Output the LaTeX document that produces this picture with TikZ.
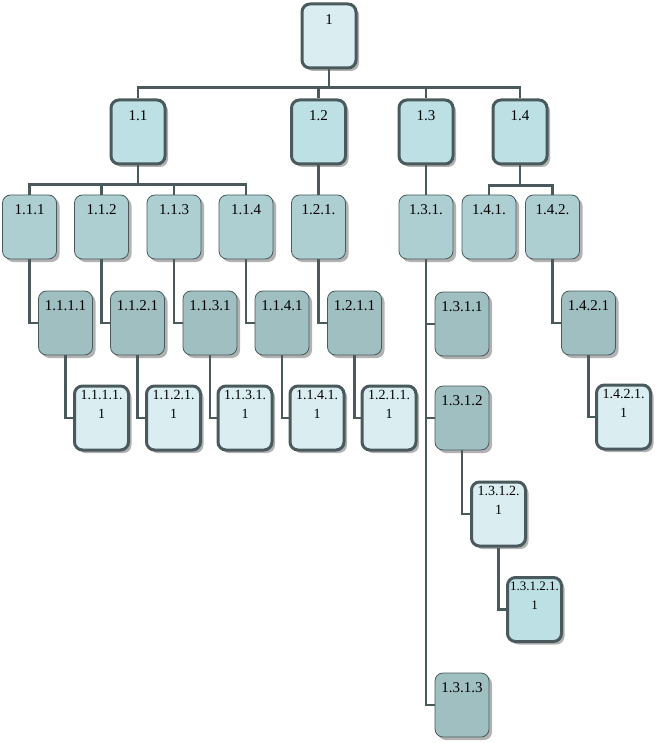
\documentclass[tikz,border=0pt]{standalone}
\usepackage{fontspec}
\setmainfont{Liberation Serif}
\usepackage{xcolor}
\usetikzlibrary{shadows}

\definecolor{edgegray}{HTML}{4A5A5C}
\definecolor{lightfill}{HTML}{DAEEF2}
\definecolor{tealfill}{HTML}{BDE0E4}
\definecolor{midfill}{HTML}{AECFD2}
\definecolor{darkfill}{HTML}{A0BFC1}

\begin{document}
\begin{tikzpicture}[x=1pt, y=-1pt,
    boxshadow/.style={drop shadow={shadow xshift=3pt, shadow yshift=-3pt, fill=black!30, opacity=1}},
    box/.style={draw=edgegray, rounded corners=8pt, minimum width=54pt, minimum height=64pt, inner sep=0pt, boxshadow},
    thickbox/.style={box, line width=3pt},
    thinbox/.style={box, line width=0.8pt},
    lvltop/.style={thickbox, fill=lightfill},
    lvlone/.style={thickbox, fill=tealfill},
    lvltwo/.style={thinbox, fill=midfill},
    lvlthree/.style={thinbox, fill=darkfill},
    onelabel/.style={label={[anchor=north, inner sep=0pt, yshift=-10pt, font=\fontsize{15}{18}\selectfont]north:#1}},
    headlabel/.style={label={[anchor=north, inner sep=0pt, yshift=-12pt, font=\fontsize{15}{18}\selectfont]north:#1}},
    twolabel/.style={label={[anchor=north, inner sep=0pt, yshift=-6pt, align=center, font=\fontsize{14}{19}\selectfont]north:#1}},
    tinylabel/.style={label={[anchor=north, inner sep=0pt, yshift=-6pt, align=center, font=\fontsize{13}{19}\selectfont]north:#1}},
    conn/.style={draw=edgegray, line width=2.8pt}
  ]
  \useasboundingbox (0,0) rectangle (659,743);

  % top levels
  \node[lvltop, headlabel=1] (root) at (329,36) {};
  \node[lvlone, headlabel=1.1] (n11) at (138,132) {};
  \node[lvlone, headlabel=1.2] (n12) at (318.5,132) {};
  \node[lvlone, headlabel=1.3] (n13) at (426,132) {};
  \node[lvlone, headlabel=1.4] (n14) at (520,132) {};

  % second level
  \node[lvltwo, onelabel=1.1.1] (n111) at (29.5,227) {};
  \node[lvltwo, onelabel=1.1.2] (n112) at (101.5,227) {};
  \node[lvltwo, onelabel=1.1.3] (n113) at (174,227) {};
  \node[lvltwo, onelabel=1.1.4] (n114) at (246,227) {};
  \node[lvltwo, onelabel=1.2.1.] (n121) at (318.5,227) {};
  \node[lvltwo, onelabel=1.3.1.] (n131) at (426,227) {};
  \node[lvltwo, onelabel=1.4.1.] (n141) at (489,227) {};
  \node[lvltwo, onelabel=1.4.2.] (n142) at (552.5,227) {};

  % third level
  \node[lvlthree, onelabel=1.1.1.1] (n1111) at (65.5,323) {};
  \node[lvlthree, onelabel=1.1.2.1] (n1121) at (137.5,323) {};
  \node[lvlthree, onelabel=1.1.3.1] (n1131) at (210,323) {};
  \node[lvlthree, onelabel=1.1.4.1] (n1141) at (282,323) {};
  \node[lvlthree, onelabel=1.2.1.1] (n1211) at (354.5,323) {};
  \node[lvlthree, onelabel=1.3.1.1] (n1311) at (462,324) {};
  \node[lvlthree, onelabel=1.3.1.2] (n1312) at (462,418) {};
  \node[lvlthree, onelabel=1.3.1.3] (n1313) at (462,705) {};
  \node[lvlthree, onelabel=1.4.2.1] (n1421) at (588.5,323) {};

  % fourth level
  \node[lvltop, twolabel={1.1.1.1.\\1}] (n11111) at (101.5,418) {};
  \node[lvltop, twolabel={1.1.2.1.\\1}] (n11211) at (173.5,418) {};
  \node[lvltop, twolabel={1.1.3.1.\\1}] (n11311) at (245,418) {};
  \node[lvltop, twolabel={1.1.4.1.\\1}] (n11411) at (317,418) {};
  \node[lvltop, twolabel={1.2.1.1.\\1}] (n12111) at (389,418) {};
  \node[lvltop, twolabel={1.4.2.1.\\1}] (n14211) at (623.5,417) {};
  \node[lvltop, twolabel={1.3.1.2.\\1}] (n13121) at (498.5,514) {};
  \node[lvlone, tinylabel={1.3.1.2.1.\\1}] (n131211) at (534.5,609.5) {};

  % connectors
  \foreach \c in {n11,n12,n13,n14}
    \draw[conn] (root.south) -- ++(0,18) -| (\c.north);
  \foreach \c in {n111,n112,n113,n114}
    \draw[conn] (n11.south) -- ++(0,19) -| (\c.north);
  \draw[conn] (n12.south) -- (n121.north);
  \draw[conn] (n13.south) -- (n131.north);
  \foreach \c in {n141,n142}
    \draw[conn] (n14.south) -- ++(0,20) -| (\c.north);

  \draw[conn] (n111.south) |- (n1111.west);
  \draw[conn] (n112.south) |- (n1121.west);
  \draw[conn] (n113.south) |- (n1131.west);
  \draw[conn] (n114.south) |- (n1141.west);
  \draw[conn] (n121.south) |- (n1211.west);
  \foreach \c in {n1311,n1312,n1313}
    \draw[conn] (n131.south) |- (\c.west);
  \draw[conn] (n142.south) |- (n1421.west);

  \draw[conn] (n1111.south) |- (n11111.west);
  \draw[conn] (n1121.south) |- (n11211.west);
  \draw[conn] (n1131.south) |- (n11311.west);
  \draw[conn] (n1141.south) |- (n11411.west);
  \draw[conn] (n1211.south) |- (n12111.west);
  \draw[conn] (n1421.south) |- (n14211.west);
  \draw[conn] (n1312.south) |- (n13121.west);
  \draw[conn] (n13121.south) |- (n131211.west);
\end{tikzpicture}
\end{document}
